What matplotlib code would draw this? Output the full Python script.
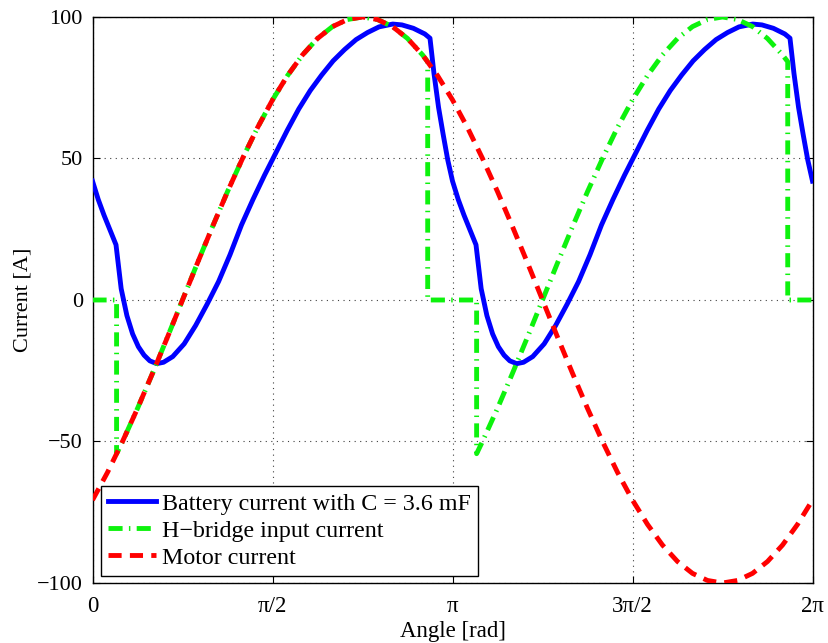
import numpy as np
import matplotlib
matplotlib.use("Agg")
import matplotlib.pyplot as plt

# ---------------- data ----------------
# Battery current with C = 3.6 mF  (angle in rad, current in A)
battery_angle = [
    0.0000, 0.0500, 0.1000, 0.1500, 0.2050, 0.2500, 0.3000, 0.3500, 0.4000,
    0.4500, 0.5000, 0.5600, 0.6200, 0.7000, 0.8000, 0.9000, 1.0000, 1.1000,
    1.2000, 1.3000, 1.4000, 1.5000, 1.6000, 1.7000, 1.8000, 1.9000, 2.0000,
    2.1000, 2.2000, 2.3000, 2.4000, 2.5000, 2.6200, 2.7000, 2.8000, 2.9000,
    2.9450, 2.9800, 3.0200, 3.0600, 3.1000,
    3.1416, 3.1916, 3.2416, 3.2916, 3.3466, 3.3916, 3.4416, 3.4916, 3.5416,
    3.5916, 3.6416, 3.7016, 3.7616, 3.8416, 3.9416, 4.0416, 4.1416, 4.2416,
    4.3416, 4.4416, 4.5416, 4.6416, 4.7416, 4.8416, 4.9416, 5.0416, 5.1416,
    5.2416, 5.3416, 5.4416, 5.5416, 5.6416, 5.7616, 5.8416, 5.9416, 6.0416,
    6.0866, 6.1216, 6.1616, 6.2016, 6.2416, 6.2832,
]
battery_current = [
    42.0, 35.5, 30.0, 25.0, 19.5, 4.0, -5.5, -12.0, -16.5,
    -19.5, -21.5, -22.5, -22.0, -20.0, -15.5, -9.0, -1.5, 6.5,
    16.0, 26.5, 35.5, 44.0, 52.0, 60.0, 67.5, 74.0, 79.5,
    84.5, 88.5, 92.0, 94.5, 96.5, 97.5, 97.2, 96.0, 94.0,
    92.5, 80.0, 68.0, 58.5, 49.5,
    42.0, 35.5, 30.0, 25.0, 19.5, 4.0, -5.5, -12.0, -16.5,
    -19.5, -21.5, -22.5, -22.0, -20.0, -15.5, -9.0, -1.5, 6.5,
    16.0, 26.5, 35.5, 44.0, 52.0, 60.0, 67.5, 74.0, 79.5,
    84.5, 88.5, 92.0, 94.5, 96.5, 97.5, 97.2, 96.0, 94.0,
    92.5, 80.0, 68.0, 58.5, 49.5, 42.0,
]

# H-bridge input current
hbridge_angle = [
    0.000, 0.210, 0.210, 0.262, 0.393, 0.524, 0.654, 0.785, 0.916, 1.047,
    1.178, 1.309, 1.440, 1.571, 1.702, 1.833, 1.963, 2.094, 2.225, 2.356,
    2.487, 2.618, 2.749, 2.880, 2.925, 2.925,
    3.352, 3.352, 3.403, 3.534, 3.665, 3.796, 3.927, 4.058, 4.189, 4.320,
    4.451, 4.581, 4.712, 4.843, 4.974, 5.105, 5.236, 5.367, 5.498, 5.629,
    5.760, 5.890, 6.021, 6.067, 6.067, 6.283,
]
hbridge_current = [
    0.0, 0.0, -54.3, -50.0, -38.3, -25.9, -13.1, 0.0, 13.1, 25.9,
    38.3, 50.0, 60.9, 70.7, 79.3, 86.6, 92.4, 96.6, 99.1, 100.0,
    99.1, 96.6, 92.4, 86.6, 84.2, 0.0,
    0.0, -54.3, -50.0, -38.3, -25.9, -13.1, 0.0, 13.1, 25.9, 38.3,
    50.0, 60.9, 70.7, 79.3, 86.6, 92.4, 96.6, 99.1, 100.0, 99.1,
    96.6, 92.4, 86.6, 84.2, 0.0, 0.0,
]

# Motor current, sampled every pi/24
motor_step = np.pi / 24
motor_current = [
    -70.7, -60.9, -50.0, -38.3, -25.9, -13.1, 0.0, 13.1, 25.9, 38.3,
    50.0, 60.9, 70.7, 79.3, 86.6, 92.4, 96.6, 99.1, 100.0, 99.1,
    96.6, 92.4, 86.6, 79.3, 70.7, 60.9, 50.0, 38.3, 25.9, 13.1,
    0.0, -13.1, -25.9, -38.3, -50.0, -60.9, -70.7, -79.3, -86.6, -92.4,
    -96.6, -99.1, -100.0, -99.1, -96.6, -92.4, -86.6, -79.3, -70.7,
]
motor_angle = np.arange(len(motor_current)) * motor_step

x_ticks = [0, np.pi / 2, np.pi, 3 * np.pi / 2, 2 * np.pi]
x_tick_labels = ["0", "π/2", "π", "3π/2", "2π"]
y_ticks = [-100, -50, 0, 50, 100]

series_labels = ["Battery current with C = 3.6 mF",
                 "H\u2212bridge input current",
                 "Motor current"]

# ---------------- figure ----------------
plt.rcParams['font.family'] = ['Liberation Serif', 'DejaVu Serif']

LEG_FS = 17.3
fig = plt.figure(figsize=(8.29, 6.43), dpi=100)
ax = fig.add_axes([0.1116, 0.0933, 0.8685, 0.8803])

ax.plot(battery_angle, battery_current, color=(0, 0, 1), lw=3.5,
        solid_joinstyle='round', label=series_labels[0], zorder=3)
ax.plot(hbridge_angle, hbridge_current, color=(0.05, 0.95, 0.05), lw=3.5,
        dashes=(2.9, 1.3, 0.3, 1.3), label=series_labels[1], zorder=4)
ax.plot(motor_angle, motor_current, color=(1, 0, 0), lw=3.5,
        dashes=(2.7, 1.7), label=series_labels[2], zorder=5)

ax.set_xlim(0, 2 * np.pi)
ax.set_ylim(-100, 100)
ax.set_xticks(x_ticks)
ax.set_xticklabels(x_tick_labels)
ax.set_yticks(y_ticks)

ax.grid(True, color='0.25', linestyle=(0, (1, 4)), linewidth=0.8)
ax.tick_params(direction='in', length=5, width=0.8, top=True, right=True,
               color='black')
ax.tick_params(axis='x', pad=9.5, labelsize=16.5)
ax.tick_params(axis='y', pad=7, labelsize=16)
for s in ax.spines.values():
    s.set_linewidth(1.0)
    s.set_color('black')

ax.set_xlabel("Angle [rad]", fontsize=16.5, labelpad=2.5)
ax.set_ylabel("Current [A]", fontsize=16)
ax.yaxis.set_label_coords(-0.083, 0.5)

leg = ax.legend(loc='lower left', bbox_to_anchor=(0.0118, 0.0124),
                borderaxespad=0, fontsize=LEG_FS, frameon=True, fancybox=False,
                framealpha=1, edgecolor='black', handlelength=2.0,
                handletextpad=0.22, borderpad=0.3, labelspacing=0.22)
leg.get_frame().set_linewidth(1.0)

fig.savefig("out.png", dpi=100)
